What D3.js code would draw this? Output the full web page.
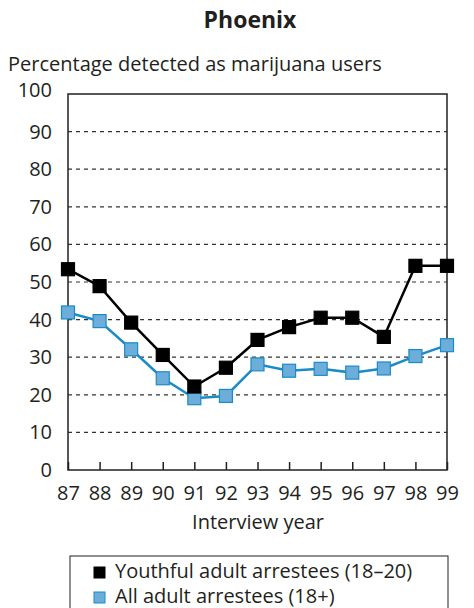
<!DOCTYPE html>
<html>
<head>
<meta charset="utf-8">
<title>Phoenix</title>
<script src="https://d3js.org/d3.v7.min.js"></script>
<style>
  body { margin: 0; background: #fff; }
  svg text { font-family: "Open Sans", "Noto Sans", sans-serif; fill: #231f20; }
</style>
</head>
<body>
<div id="chart"></div>
<script>
  // data
  var years = ["87", "88", "89", "90", "91", "92", "93", "94", "95", "96", "97", "98", "99"];
  var youthful = [53.4, 48.9, 39.2, 30.6, 22.2, 27.2, 34.6, 38.0, 40.5, 40.5, 35.4, 54.3, 54.3];
  var allAdults = [41.9, 39.6, 32.1, 24.4, 19.1, 19.7, 28.1, 26.4, 26.9, 25.9, 27.0, 30.3, 33.2];
  var yTicks = [0, 10, 20, 30, 40, 50, 60, 70, 80, 90, 100];
  var seriesNames = ["Youthful adult arrestees (18\u201320)", "All adult arrestees (18+)"];

  var width = 474, height = 608;
  var pLeft = 68, pRight = 447, pTop = 94, pBottom = 470;

  var svg = d3.select("#chart").append("svg")
      .attr("width", width)
      .attr("height", height);

  var x = d3.scalePoint().domain(years).range([pLeft, pRight]);
  var y = d3.scaleLinear().domain([0, 100]).range([pBottom, pTop]);

  // title + y label
  svg.append("text")
      .attr("x", 250).attr("y", 28)
      .attr("text-anchor", "middle")
      .style("font-weight", "bold")
      .style("font-size", "23px")
      .text("Phoenix");

  svg.append("text")
      .attr("x", 8).attr("y", 71)
      .style("font-size", "20px")
      .text("Percentage detected as marijuana users");

  // dashed grid
  svg.append("g").selectAll("line")
      .data(yTicks.filter(function(d) { return d > 0 && d < 100; }))
      .enter().append("line")
      .attr("x1", pLeft).attr("x2", pRight)
      .attr("y1", function(d) { return y(d); })
      .attr("y2", function(d) { return y(d); })
      .attr("stroke", "#333")
      .attr("stroke-width", 1.2)
      .attr("stroke-dasharray", "4,4");

  // frame
  svg.append("rect")
      .attr("x", pLeft).attr("y", pTop)
      .attr("width", pRight - pLeft).attr("height", pBottom - pTop)
      .attr("fill", "none")
      .attr("stroke", "#231f20")
      .attr("stroke-width", 1.5);

  // y labels
  svg.append("g").selectAll("text")
      .data(yTicks)
      .enter().append("text")
      .attr("x", 52)
      .attr("y", function(d) { return y(d) + 7 - (d == 100 ? 4 : 0); })
      .attr("text-anchor", "end")
      .style("font-size", "20px")
      .text(function(d) { return d; });

  // x axis ticks (inward) and labels
  var xAxis = d3.axisBottom(x).tickSize(-8).tickPadding(14);
  var gx = svg.append("g")
      .attr("transform", "translate(0," + pBottom + ")")
      .call(xAxis);
  gx.select(".domain").remove();
  gx.selectAll(".tick line").attr("stroke", "#231f20").attr("stroke-width", 1.5);
  gx.selectAll(".tick text")
      .attr("y", 16)
      .attr("dy", "0.71em")
      .style("font-size", "20px")
      .style("font-family", "\"Open Sans\", sans-serif")
      .attr("fill", "#231f20");

  svg.append("text")
      .attr("x", 258).attr("y", 529)
      .attr("text-anchor", "middle")
      .style("font-size", "20px")
      .text("Interview year");

  // lines
  var line = d3.line()
      .x(function(d, i) { return x(years[i]); })
      .y(function(d) { return y(d); });

  var series = [
    { values: youthful, stroke: "#000", fill: "#000" },
    { values: allAdults, stroke: "#1b8bc8", fill: "#6cadd9" }
  ];

  series.slice().reverse().forEach(function(s) {
    svg.append("path")
        .datum(s.values)
        .attr("d", line)
        .attr("fill", "none")
        .attr("stroke", s.stroke)
        .attr("stroke-width", 2.5);
    svg.append("g").selectAll("rect")
        .data(s.values)
        .enter().append("rect")
        .attr("x", function(d, i) { return x(years[i]) - 6.5; })
        .attr("y", function(d) { return y(d) - 6.5; })
        .attr("width", 13).attr("height", 13)
        .attr("fill", s.fill)
        .attr("stroke", s.stroke)
        .attr("stroke-width", 1.2);
  });

  // legend
  var lg = svg.append("g");
  lg.append("rect")
      .attr("x", 70).attr("y", 556)
      .attr("width", 378).attr("height", 70)
      .attr("fill", "none")
      .attr("stroke", "#231f20")
      .attr("stroke-width", 1);

  seriesNames.forEach(function(name, i) {
    var s = series[i];
    lg.append("rect")
        .attr("x", 94).attr("y", 567 + i * 25)
        .attr("width", 11).attr("height", 11)
        .attr("fill", s.fill)
        .attr("stroke", s.stroke)
        .attr("stroke-width", 1);
    lg.append("text")
        .attr("x", 115).attr("y", 578 + i * 25)
        .style("font-size", "20px")
        .text(name);
  });
</script>
</body>
</html>
